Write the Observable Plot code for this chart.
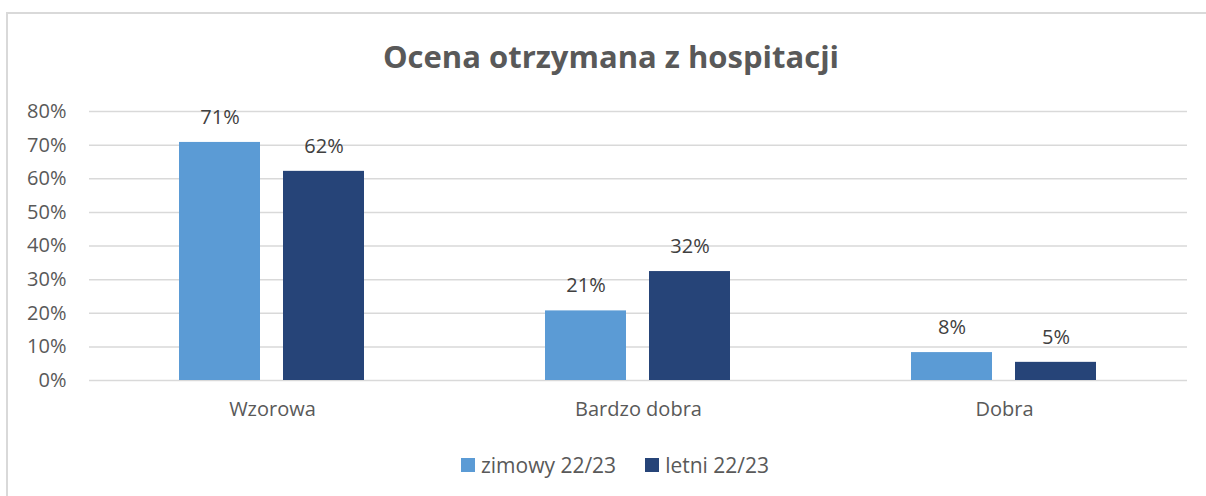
<!DOCTYPE html>
<html>
<head>
<meta charset="utf-8">
<script src="https://cdn.jsdelivr.net/npm/d3@7"></script>
<script src="https://cdn.jsdelivr.net/npm/@observablehq/plot@0.6"></script>
<style>
  html, body { margin: 0; padding: 0; background: #fff; }
  body { width: 1206px; height: 496px; position: relative; overflow: hidden; font-family: "Open Sans", sans-serif; }
  #frame { position: absolute; left: 6px; top: 12px; width: 1300px; height: 600px; border-top: 2px solid #d9d9d9; border-left: 2px solid #d9d9d9; }
  #title { position: absolute; left: 8px; top: 34px; width: 1206px; text-align: center; font-size: 31px; font-weight: bold; color: #595959; line-height: 44px; }
  #chart { position: absolute; left: 0; top: 90px; }
  #legend { position: absolute; left: 12px; top: 450px; width: 1206px; display: flex; justify-content: center; gap: 29px; font-size: 21px; color: #595959; line-height: 30px; }
  .item { display: flex; align-items: center; gap: 6px; }
  .sw { width: 14px; height: 14px; display: inline-block; }
</style>
</head>
<body>
<div id="frame"></div>
<div id="title">Ocena otrzymana z hospitacji</div>
<div id="chart"></div>
<div id="legend"></div>
<script>
const categories = ["Wzorowa", "Bardzo dobra", "Dobra"];
const series = ["zimowy 22/23", "letni 22/23"];
const zimowy = [70.8, 20.7, 8.3];
const letni = [62.2, 32.4, 5.4];
const zimowyLabels = ["71%", "21%", "8%"];
const letniLabels = ["62%", "32%", "5%"];
const colors = ["#5b9bd5", "#264478"];
const yTicks = [0, 10, 20, 30, 40, 50, 60, 70, 80];

const data = [];
categories.forEach((c, i) => {
  data.push({category: c, series: series[0], value: zimowy[i], label: zimowyLabels[i]});
  data.push({category: c, series: series[1], value: letni[i], label: letniLabels[i]});
});

const plot = Plot.plot({
  width: 1206,
  height: 350,
  marginLeft: 88,
  marginRight: 18,
  marginTop: 21,
  marginBottom: 60,
  style: {fontFamily: "Open Sans, sans-serif", fontSize: "20px", color: "#595959", background: "transparent"},
  fx: {domain: categories, padding: 0, label: null, axis: "bottom", tickSize: 0, tickPadding: 21},
  x: {domain: series, axis: null, paddingInner: 0.22, paddingOuter: 0.856},
  y: {domain: [0, 80], ticks: yTicks, tickFormat: d => d + "%", label: null, tickSize: 0, tickPadding: 23},
  color: {domain: series, range: colors},
  marks: [
    Plot.ruleY(yTicks, {stroke: "#d9d9d9", strokeWidth: 1.5}),
    Plot.barY(data, {fx: "category", x: "series", y: "value", fill: "series"}),
    Plot.text(data, {fx: "category", x: "series", y: "value", text: "label", dy: -25, fill: "#404040", fontSize: 20})
  ]
});
document.getElementById("chart").appendChild(plot);

const legend = document.getElementById("legend");
series.forEach((s, i) => {
  const item = document.createElement("div");
  item.className = "item";
  const sw = document.createElement("span");
  sw.className = "sw";
  sw.style.background = colors[i];
  const t = document.createElement("span");
  t.textContent = s;
  item.appendChild(sw);
  item.appendChild(t);
  legend.appendChild(item);
});
</script>
</body>
</html>
